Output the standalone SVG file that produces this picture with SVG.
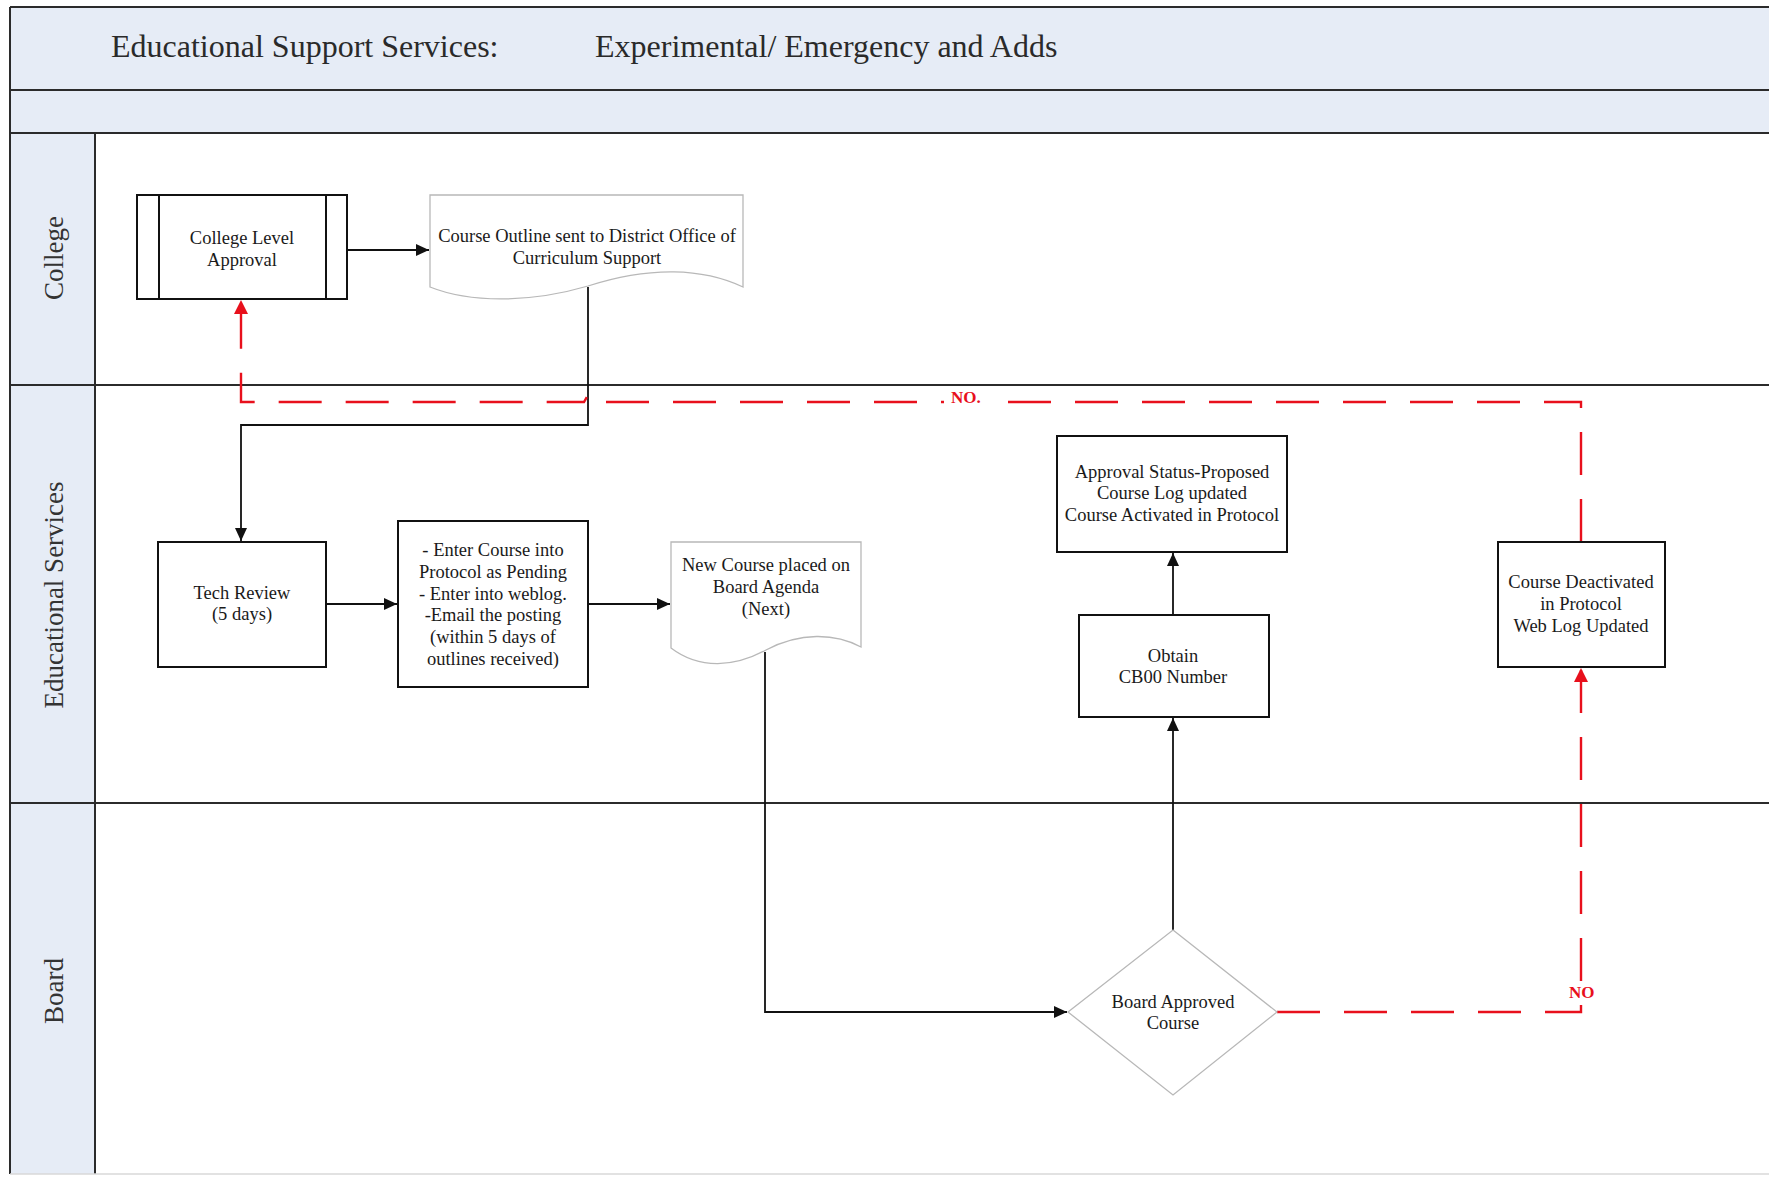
<svg xmlns="http://www.w3.org/2000/svg" width="1769" height="1178" viewBox="0 0 1769 1178">
<style>
.band{fill:#e6ecf6;}
.frame{stroke:#2b2b2b;stroke-width:2;fill:none;}
.lane{font-family:"Liberation Serif","Times New Roman",serif;font-size:27px;fill:#333;text-anchor:middle;}
.title{font-family:"Liberation Serif","Times New Roman",serif;font-size:32px;fill:#2a2a2a;}
.box{fill:#fff;stroke:#111;stroke-width:2;}
.soft{fill:#fff;stroke:#b8b8b8;stroke-width:1.3;}
.t{font-family:"Liberation Serif","Times New Roman",serif;font-size:18.5px;fill:#1a1a1a;text-anchor:middle;}
.conn{fill:none;stroke:#111;stroke-width:1.8;}
.red{fill:none;stroke:#e8101c;stroke-width:2.4;stroke-dasharray:43 24;}
.no{font-family:"Liberation Serif","Times New Roman",serif;font-size:17px;font-weight:bold;fill:#e8101c;}
</style>
<defs>
<marker id="ab" markerUnits="userSpaceOnUse" markerWidth="14" markerHeight="12" refX="13" refY="6" orient="auto">
<path d="M0,0 L13,6 L0,12 Z" fill="#111"/>
</marker>
<marker id="ar" markerUnits="userSpaceOnUse" markerWidth="14" markerHeight="14" refX="14" refY="7" orient="auto">
<path d="M0,0 L14,7 L0,14 Z" fill="#e8101c"/>
</marker>
</defs>
<rect width="1769" height="1178" fill="#fff"/>
<g id="swimlanes">
<rect class="band" x="10" y="7" width="1759" height="126"/>
<rect class="band" x="10" y="133" width="85" height="1041"/>
<path class="frame" d="M10,7 H1769 M10,90 H1769 M10,133 H1769 M10,385 H1769 M10,803 H1769 M10,7 V1174 M95,133 V1174"/>
<path d="M10,1174 H1769" stroke="#d8d8d8" stroke-width="1.5"/>
<text class="title" x="111" y="57">Educational Support Services:</text>
<text class="title" x="595" y="57">Experimental/ Emergency and Adds</text>
<text class="lane" transform="translate(63,258) rotate(-90)">College</text>
<text class="lane" transform="translate(63,595) rotate(-90)">Educational Services</text>
<text class="lane" transform="translate(63,991) rotate(-90)">Board</text>
</g>
<g id="connectors">
<path class="conn" d="M347,250 H429" marker-end="url(#ab)"/>
<path class="conn" d="M588,287 V425 H241 V541" marker-end="url(#ab)"/>
<path class="conn" d="M326,604 H397" marker-end="url(#ab)"/>
<path class="conn" d="M588,604 H670" marker-end="url(#ab)"/>
<path class="conn" d="M765,652 V1012 H1067" marker-end="url(#ab)"/>
<path class="conn" d="M1173,930 V718" marker-end="url(#ab)"/>
<path class="conn" d="M1173,615 V553" marker-end="url(#ab)"/>
<path class="red" d="M1581,542 V402 H593 L588,395 L584,402 H241 V300" marker-end="url(#ar)"/>
<path class="red" d="M1277,1012 H1581 V668" marker-end="url(#ar)"/>
<rect x="944" y="386" width="50" height="22" fill="#fff"/>
<text class="no" x="951" y="403">NO.</text>
<text class="no" x="1569" y="998">NO</text>
</g>
<g id="college-approval">
<rect class="box" x="137" y="195" width="210" height="104"/>
<path d="M159,195 V299 M326,195 V299" stroke="#111" stroke-width="2"/>
<text class="t" x="242" y="244">College Level</text>
<text class="t" x="242" y="266">Approval</text>
</g>
<g id="course-outline">
<path class="soft" d="M430,195 H743 V287 C703,268 650,266 588,286 C530,303 470,303 430,287 Z"/>
<text class="t" x="587" y="242">Course Outline sent to District Office of</text>
<text class="t" x="587" y="264">Curriculum Support</text>
</g>
<g id="tech-review">
<rect class="box" x="158" y="542" width="168" height="125"/>
<text class="t" x="242" y="599">Tech Review</text>
<text class="t" x="242" y="620">(5 days)</text>
</g>
<g id="enter-course">
<rect class="box" x="398" y="521" width="190" height="166"/>
<text class="t" x="493" y="556">- Enter Course into</text>
<text class="t" x="493" y="578">Protocol as Pending</text>
<text class="t" x="493" y="600">- Enter into weblog.</text>
<text class="t" x="493" y="621">-Email the posting</text>
<text class="t" x="493" y="643">(within 5 days of</text>
<text class="t" x="493" y="665">outlines received)</text>
</g>
<g id="new-course">
<path class="soft" d="M671,542 H861 V647 C835,633 800,632 766,650 C735,667 700,670 671,648 Z"/>
<text class="t" x="766" y="571">New Course placed on</text>
<text class="t" x="766" y="593">Board Agenda</text>
<text class="t" x="766" y="615">(Next)</text>
</g>
<g id="approval-status">
<rect class="box" x="1057" y="436" width="230" height="116"/>
<text class="t" x="1172" y="478">Approval Status-Proposed</text>
<text class="t" x="1172" y="499">Course Log updated</text>
<text class="t" x="1172" y="521">Course Activated in Protocol</text>
</g>
<g id="obtain-cb00">
<rect class="box" x="1079" y="615" width="190" height="102"/>
<text class="t" x="1173" y="662">Obtain</text>
<text class="t" x="1173" y="683">CB00 Number</text>
</g>
<g id="course-deactivated">
<rect class="box" x="1498" y="542" width="167" height="125"/>
<text class="t" x="1581" y="588">Course Deactivated</text>
<text class="t" x="1581" y="610">in Protocol</text>
<text class="t" x="1581" y="632">Web Log Updated</text>
</g>
<g id="board-approved">
<polygon class="soft" points="1173,930 1277,1012 1173,1095 1068,1012"/>
<text class="t" x="1173" y="1008">Board Approved</text>
<text class="t" x="1173" y="1029">Course</text>
</g>
</svg>
